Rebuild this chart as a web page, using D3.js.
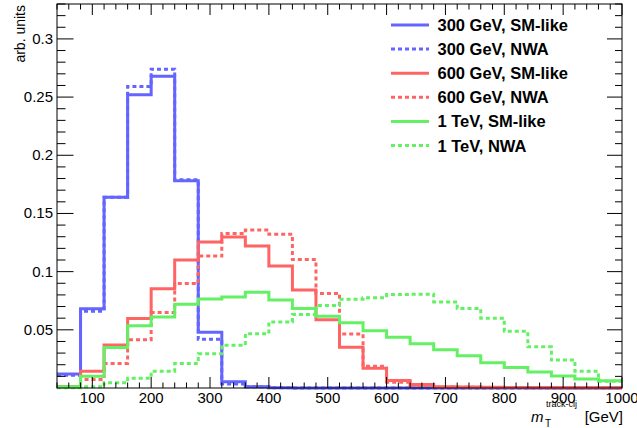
<!DOCTYPE html>
<html>
<head>
<meta charset="utf-8">
<script src="https://cdn.jsdelivr.net/npm/d3@7"></script>
<style>
  body { margin: 0; background: #fff; }
  text { font-family: 'Liberation Sans', Arial, sans-serif; }
</style>
</head>
<body>
<div id="chart"></div>
<script>
// bin edges in GeV (40 GeV bins)
const binEdges = [40, 80, 120, 160, 200, 240, 280, 320, 360, 400, 440, 480, 520, 560, 600, 640, 680, 720, 760, 800, 840, 880, 920, 960, 1000]
const blueSM = [0.012, 0.068, 0.164, 0.252, 0.268, 0.178, 0.048, 0.0054, 0.001, 0.0003, 0, 0, 0, 0, 0, 0, 0, 0, 0, 0, 0, 0, 0, 0]
const blueNWA = [0.011, 0.066, 0.164, 0.259, 0.274, 0.179, 0.042, 0.0034, 0.001, 0.0003, 0, 0, 0, 0, 0, 0, 0, 0, 0, 0, 0, 0, 0, 0]
const redSM = [0.001, 0.0143, 0.037, 0.0597, 0.0854, 0.110, 0.1254, 0.1297, 0.122, 0.1048, 0.0843, 0.0586, 0.0350, 0.0170, 0.0065, 0.003, 0.001, 0.0008, 0.0006, 0.0005, 0.0004, 0.0003, 0.0003, 0.0002]
const redNWA = [0.001, 0.0074, 0.0211, 0.0414, 0.0649, 0.0897, 0.1134, 0.1328, 0.1357, 0.1322, 0.1104, 0.0813, 0.0463, 0.0186, 0.005, 0.002, 0.0008, 0.0006, 0.0005, 0.0004, 0.0003, 0.0003, 0.0002, 0.0002]
const greenSM = [0.001, 0.010, 0.0349, 0.0534, 0.0611, 0.072, 0.0765, 0.0783, 0.0823, 0.0757, 0.0683, 0.0617, 0.056, 0.0491, 0.0436, 0.038, 0.0328, 0.0277, 0.0217, 0.0177, 0.0137, 0.0103, 0.0077, 0.0062]
const greenNWA = [0.0003, 0.001, 0.0045, 0.0083, 0.0143, 0.0211, 0.0294, 0.0368, 0.0466, 0.0568, 0.0631, 0.0708, 0.0763, 0.0776, 0.0803, 0.0805, 0.074, 0.0683, 0.06, 0.0488, 0.0354, 0.024, 0.0143, 0.0058]
const seriesNames = ['300 GeV, SM-like', '300 GeV, NWA', '600 GeV, SM-like', '600 GeV, NWA', '1 TeV, SM-like', '1 TeV, NWA']
const yTicks = [0.05, 0.1, 0.15, 0.2, 0.25, 0.3]
const xTicks = [100, 200, 300, 400, 500, 600, 700, 800, 900, 1000]

const blue = '#6464ff', red = '#ff6464', green = '#64f064'
const series = [
  {name: seriesNames[0], values: blueSM, color: blue, dash: null},
  {name: seriesNames[1], values: blueNWA, color: blue, dash: '4,3'},
  {name: seriesNames[2], values: redSM, color: red, dash: null},
  {name: seriesNames[3], values: redNWA, color: red, dash: '4,3'},
  {name: seriesNames[4], values: greenSM, color: green, dash: null},
  {name: seriesNames[5], values: greenNWA, color: green, dash: '4,3'}
]

const W = 637, H = 428
const margin = {top: 4, right: 15, bottom: 40, left: 57}
const width = W - margin.left - margin.right,
  height = H - margin.top - margin.bottom

const x = d3.scaleLinear().domain([40, 1000]).range([0, width])
const y = d3.scaleLinear().domain([0, 0.33]).range([height, 0])

const svg = d3.select('#chart').append('svg')
  .attr('width', W)
  .attr('height', H)
const g = svg.append('g')
  .attr('transform', `translate(${margin.left}, ${margin.top})`)

// histograms
const line = d3.line()
  .x(d => x(d[0]))
  .y(d => y(d[1]))
  .curve(d3.curveStepAfter)
series.forEach(s => {
  const pts = s.values.map((v, i) => [binEdges[i], v])
  pts.push([binEdges[binEdges.length - 1], s.values[s.values.length - 1]])
  g.append('path')
    .attr('d', line(pts))
    .attr('fill', 'none')
    .attr('stroke', s.color)
    .attr('stroke-width', 3)
    .attr('stroke-dasharray', s.dash)
})

// frame + ticks
g.append('rect')
  .attr('width', width)
  .attr('height', height)
  .attr('fill', 'none')
  .attr('stroke', '#000')
  .attr('stroke-width', 1)

const xMinor = d3.range(40, 1001, 20)
const yMinor = d3.range(0.01, 0.331, 0.01)
const isMajorX = v => v % 100 === 0
const isMajorY = v => Math.abs(v * 20 - Math.round(v * 20)) < 1e-6

const ticks = g.append('g').attr('stroke', '#000').attr('stroke-width', 1)
xMinor.forEach(v => {
  const len = isMajorX(v) ? 11 : 5.5
  ticks.append('line').attr('x1', x(v)).attr('x2', x(v)).attr('y1', height).attr('y2', height - len)
  ticks.append('line').attr('x1', x(v)).attr('x2', x(v)).attr('y1', 0).attr('y2', len)
})
yMinor.forEach(v => {
  const len = isMajorY(v) ? 16.5 : 8.5
  ticks.append('line').attr('x1', 0).attr('x2', len).attr('y1', y(v)).attr('y2', y(v))
  ticks.append('line').attr('x1', width).attr('x2', width - len + 1.5).attr('y1', y(v)).attr('y2', y(v))
})

// tick labels
g.append('g').selectAll('text')
  .data(xTicks)
  .enter().append('text')
  .attr('x', d => x(d))
  .attr('y', height + 15)
  .attr('text-anchor', 'middle')
  .style('font-size', '15px')
  .text(d => d)
g.append('g').selectAll('text')
  .data(yTicks)
  .enter().append('text')
  .attr('x', -4)
  .attr('y', d => y(d) + 5)
  .attr('text-anchor', 'end')
  .style('font-size', '15px')
  .text(d => d)

// axis titles
svg.append('text')
  .attr('transform', 'translate(25, 5) rotate(-90)')
  .attr('text-anchor', 'end')
  .style('font-size', '14px')
  .text('arb. units')

const xt = svg.append('g')
xt.append('text')
  .attr('x', 623)
  .attr('y', 422)
  .attr('text-anchor', 'end')
  .style('font-size', '15px')
  .text('[GeV]')
xt.append('text')
  .attr('x', 531)
  .attr('y', 422)
  .style('font-size', '15px')
  .style('font-style', 'italic')
  .text('m')
xt.append('text')
  .attr('x', 545)
  .attr('y', 427)
  .style('font-size', '10px')
  .text('T')
xt.append('text')
  .attr('x', 546)
  .attr('y', 407)
  .style('font-size', '9px')
  .text('track-clj')

// legend
const leg = svg.append('g').attr('transform', 'translate(391, 25)')
series.forEach((s, i) => {
  const row = leg.append('g').attr('transform', `translate(0, ${i * 24.1})`)
  row.append('line')
    .attr('x1', 0).attr('x2', 38)
    .attr('stroke', s.color)
    .attr('stroke-width', 3)
    .attr('stroke-dasharray', s.dash)
  row.append('text')
    .attr('x', 46.5)
    .attr('y', 6)
    .style('font-size', '16.5px')
    .style('font-weight', 'bold')
    .text(s.name)
})
</script>
</body>
</html>
